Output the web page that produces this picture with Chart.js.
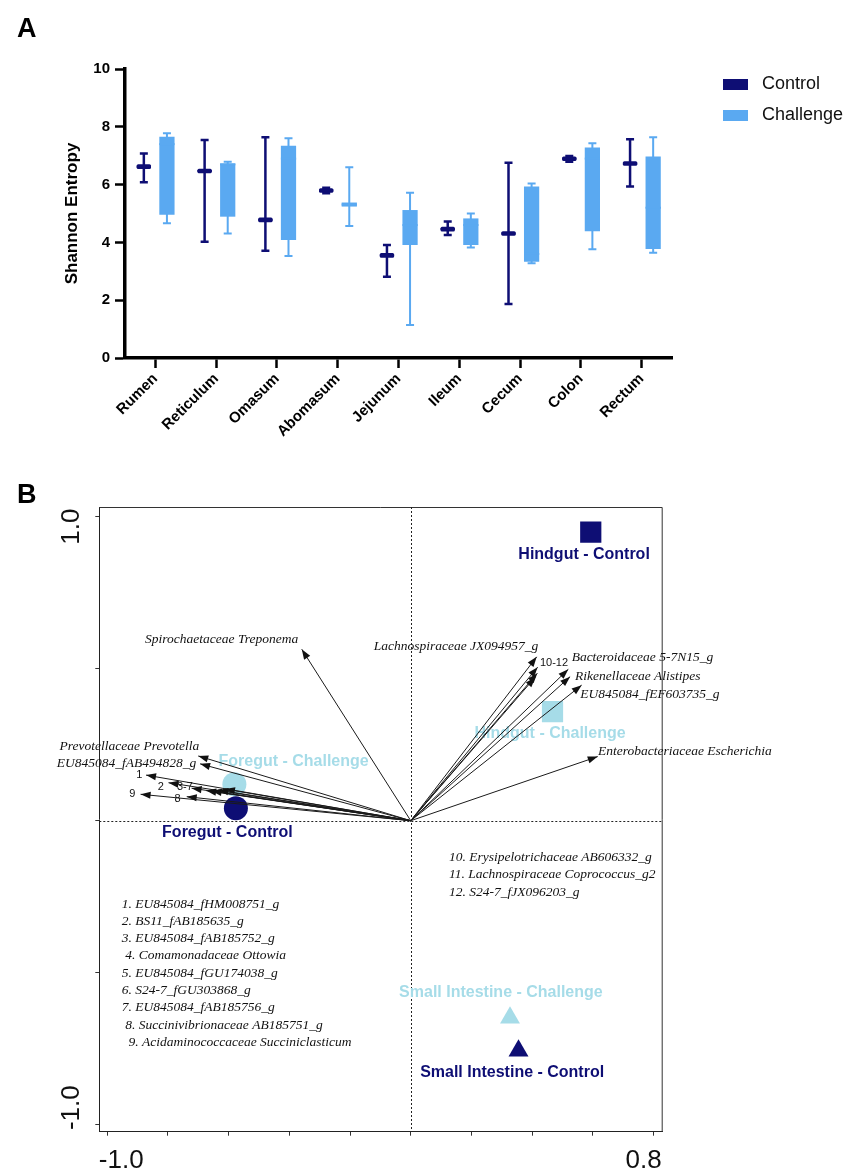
<!DOCTYPE html>
<html>
<head>
<meta charset="utf-8">
<script src="https://cdn.jsdelivr.net/npm/chart.js@4.4.1/dist/chart.umd.min.js"></script>
<style>
  html, body { margin: 0; padding: 0; background: #fff; }
  body { width: 850px; height: 1174px; position: relative; overflow: hidden; font-family: "Liberation Sans", Arial, sans-serif; }
  #wrapA { position: absolute; left: 0; top: 0; width: 850px; height: 470px; }
  #wrapB { position: absolute; left: 0; top: 470px; width: 850px; height: 704px; }
  .panel-tag { position: absolute; font-weight: bold; font-size: 27px; color: #000; }
</style>
</head>
<body>
<div id="wrapA"><canvas id="diversityChart"></canvas></div>
<div id="wrapB"><canvas id="ordinationChart"></canvas></div>
<div class="panel-tag" style="left:17px;top:13px">A</div>
<div class="panel-tag" style="left:17px;top:479px">B</div>
<script>
// ---- panel A: Shannon entropy per gut section ----
const organs = ["Rumen", "Reticulum", "Omasum", "Abomasum", "Jejunum", "Ileum", "Cecum", "Colon", "Rectum"];

const controlMin = [6.08, 4.02, 3.71, 5.70, 2.81, 4.26, 1.87, 6.79, 5.93];
const controlQ1 = [6.54, 6.39, 4.70, 5.72, 3.47, 4.38, 4.23, 6.82, 6.65];
const controlMedian = [6.62, 6.47, 4.78, 5.80, 3.55, 4.46, 4.31, 6.90, 6.73];
const controlQ3 = [6.70, 6.55, 4.86, 5.87, 3.63, 4.54, 4.39, 6.97, 6.81];
const controlMax = [7.08, 7.54, 7.64, 5.89, 3.91, 4.72, 6.76, 6.99, 7.57];

const challengeMin = [4.66, 4.31, 3.53, 4.57, 1.14, 3.82, 3.28, 3.76, 3.64];
const challengeQ1 = [4.96, 4.89, 4.08, 5.24, 3.91, 3.91, 3.33, 4.39, 3.77];
const challengeMedian = [7.40, 6.70, 6.90, 5.31, 4.60, 4.60, 3.60, 6.90, 5.20];
const challengeQ3 = [7.66, 6.73, 7.34, 5.38, 5.12, 4.83, 5.93, 7.28, 6.97];
const challengeMax = [7.78, 6.79, 7.60, 6.60, 5.72, 5.00, 6.04, 7.43, 7.64];

// ---- panel B: ordination biplot ----
const groupNames = ["Foregut - Control", "Foregut - Challenge", "Small Intestine - Control",
  "Small Intestine - Challenge", "Hindgut - Control", "Hindgut - Challenge"];
const groupX = [-0.576, -0.581, 0.355, 0.327, 0.593, 0.467];
const groupY = [0.041, 0.120, -0.757, -0.648, 0.949, 0.359];
const groupLabelX = [-0.604, -0.386, 0.334, 0.297, 0.571, 0.459];
const groupLabelY = [-0.038, 0.194, -0.828, -0.564, 0.877, 0.288];

// arrow tips (taxa loadings), arrows start at the origin
const arrowTaxa = ["Spirochaetaceae Treponema", "Prevotellaceae Prevotella", "EU845084_fAB494828_g",
  "1", "2", "3", "4", "5", "6", "7", "8", "9",
  "Lachnospiraceae JX094957_g", "10", "11", "12",
  "Bacteroidaceae 5-7N15_g", "Rikenellaceae Alistipes", "EU845084_fEF603735_g", "Enterobacteriaceae Escherichia"];
const arrowTipX = [-0.359, -0.700, -0.694, -0.872, -0.798, -0.722, -0.674, -0.656, -0.634, -0.612, -0.738, -0.890,
  0.415, 0.418, 0.417, 0.410, 0.519, 0.525, 0.563, 0.616];
const arrowTipY = [0.564, 0.213, 0.187, 0.150, 0.125, 0.107, 0.099, 0.098, 0.101, 0.104, 0.079, 0.087,
  0.539, 0.505, 0.485, 0.472, 0.498, 0.474, 0.446, 0.211];

const arrowLabels = ["Spirochaetaceae Treponema", "Prevotellaceae Prevotella", "EU845084_fAB494828_g",
  "1", "2", "3-7", "8", "9", "Lachnospiraceae JX094957_g", "10-12",
  "Bacteroidaceae 5-7N15_g", "Rikenellaceae Alistipes", "EU845084_fEF603735_g", "Enterobacteriaceae Escherichia"];
const arrowLabelX = [-0.371, -0.697, -0.707, -0.894, -0.823, -0.744, -0.768, -0.917, 0.420, 0.472, 0.530, 0.541, 0.558, 0.617];
const arrowLabelY = [0.595, 0.243, 0.187, 0.150, 0.112, 0.110, 0.070, 0.087, 0.572, 0.518, 0.536, 0.474, 0.417, 0.227];

const foregutKey = ["1. EU845084_fHM008751_g", "2. BS11_fAB185635_g", "3. EU845084_fAB185752_g",
  " 4. Comamonadaceae Ottowia", "5. EU845084_fGU174038_g", "6. S24-7_fGU303868_g",
  "7. EU845084_fAB185756_g", " 8. Succinivibrionaceae AB185751_g", "  9. Acidaminococcaceae Succiniclasticum"];
const hindgutKey = ["10. Erysipelotrichaceae AB606332_g", "11. Lachnospiraceae Coprococcus_g2", "12. S24-7_fJX096203_g"];

const xTickLabels = [-1.0, 0.8];
const yTickLabels = [1.0, -1.0];

// colours / fonts
const navy = "#0e0e74";
const blue = "#5aa9f1";
const lightBlue = "#a6dce8";
const sans = "'Liberation Sans', Arial, sans-serif";
const serif = "'Liberation Serif', 'Times New Roman', serif";

// whiskers + caps drawn under the boxes, medians over them
const whiskerPlugin = {
  id: "whiskers",
  beforeDatasetsDraw(chart) {
    const { ctx } = chart;
    const y = chart.scales.y;
    chart.data.datasets.forEach((ds, di) => {
      const meta = chart.getDatasetMeta(di);
      ctx.save();
      ctx.strokeStyle = ds.backgroundColor;
      ctx.lineWidth = ds.whiskerWidth;
      meta.data.forEach((bar, i) => {
        const top = y.getPixelForValue(ds.whiskerMax[i]);
        const bottom = y.getPixelForValue(ds.whiskerMin[i]);
        ctx.beginPath();
        ctx.moveTo(bar.x, top);
        ctx.lineTo(bar.x, bottom);
        ctx.moveTo(bar.x - 4, top);
        ctx.lineTo(bar.x + 4, top);
        ctx.moveTo(bar.x - 4, bottom);
        ctx.lineTo(bar.x + 4, bottom);
        ctx.stroke();
      });
      ctx.restore();
    });
  },
  afterDatasetsDraw(chart) {
    const { ctx } = chart;
    const y = chart.scales.y;
    chart.data.datasets.forEach((ds, di) => {
      const meta = chart.getDatasetMeta(di);
      ctx.save();
      ctx.strokeStyle = ds.backgroundColor;
      ctx.lineWidth = 2;
      meta.data.forEach((bar, i) => {
        const my = y.getPixelForValue(ds.medians[i]);
        ctx.beginPath();
        ctx.moveTo(bar.x - bar.width / 2, my);
        ctx.lineTo(bar.x + bar.width / 2, my);
        ctx.stroke();
      });
      ctx.restore();
    });
  },
};

// legend on the right of panel A
const boxLegend = {
  id: "boxLegend",
  afterDraw(chart) {
    const { ctx } = chart;
    chart.data.datasets.forEach((ds, i) => {
      const cy = 84.5 + i * 31;
      ctx.save();
      ctx.fillStyle = ds.backgroundColor;
      ctx.fillRect(723, cy - 5.5, 25, 11);
      ctx.fillStyle = "#111";
      ctx.font = "18px " + sans;
      ctx.textBaseline = "middle";
      ctx.fillText(ds.label, 762, cy);
      ctx.restore();
    });
  },
};

new Chart(document.getElementById("diversityChart"), {
  type: "bar",
  data: {
    labels: organs,
    datasets: [
      {
        label: "Control",
        data: organs.map((_, i) => [controlQ1[i], controlQ3[i]]),
        whiskerMin: controlMin,
        whiskerMax: controlMax,
        medians: controlMedian,
        whiskerWidth: 2.5,
        backgroundColor: navy,
        borderWidth: 0,
        borderRadius: 1.5,
        borderSkipped: false,
        categoryPercentage: 0.76,
        barPercentage: 0.62,
      },
      {
        label: "Challenge",
        data: organs.map((_, i) => [challengeQ1[i], challengeQ3[i]]),
        whiskerMin: challengeMin,
        whiskerMax: challengeMax,
        medians: challengeMedian,
        whiskerWidth: 2,
        backgroundColor: blue,
        borderWidth: 0,
        borderSkipped: false,
        categoryPercentage: 0.76,
        barPercentage: 0.66,
      },
    ],
  },
  options: {
    responsive: true,
    maintainAspectRatio: false,
    animation: false,
    layout: { padding: { left: 60, top: 69, right: 178, bottom: 0 } },
    plugins: { legend: { display: false }, tooltip: { enabled: false } },
    scales: {
      x: {
        offset: true,
        grid: { offset: false, drawOnChartArea: false, tickLength: 10, tickWidth: 2.5, tickColor: "#000" },
        border: { color: "#000", width: 3.5 },
        ticks: {
          color: "#000",
          font: { family: sans, size: 15, weight: "bold" },
          minRotation: 45,
          maxRotation: 45,
          padding: 2,
        },
        afterFit: (s) => { s.height = 112; },
      },
      y: {
        min: 0,
        max: 10,
        ticks: { stepSize: 2, color: "#000", padding: 5, font: { family: sans, size: 15, weight: "bold" } },
        grid: { drawOnChartArea: false, tickLength: 10, tickWidth: 2.5, tickColor: "#000" },
        border: { color: "#000", width: 3.5 },
        title: {
          display: true,
          text: "Shannon Entropy",
          color: "#000",
          font: { family: sans, size: 17, weight: "bold" },
          padding: { top: 2, bottom: 0 },
        },
        afterFit: (s) => { s.width = 65; },
      },
    },
  },
  plugins: [whiskerPlugin, boxLegend],
});

// ---- panel B helpers ----
const labelAlign = ["right", "right", "right", "center", "center", "center", "center", "center",
  "right", "center", "left", "left", "left", "left"];

const biplotDecor = {
  id: "biplotDecor",
  beforeDatasetsDraw(chart) {
    const { ctx, chartArea: a } = chart;
    const xs = chart.scales.x, ys = chart.scales.y;
    ctx.save();
    // frame top + right
    ctx.strokeStyle = "#333";
    ctx.lineWidth = 1;
    ctx.beginPath();
    ctx.moveTo(a.left, a.top + 0.5);
    ctx.lineTo(a.right - 0.5, a.top + 0.5);
    ctx.lineTo(a.right - 0.5, a.bottom);
    ctx.stroke();
    // dotted zero lines
    ctx.setLineDash([2, 2]);
    ctx.strokeStyle = "#222";
    const x0 = Math.round(xs.getPixelForValue(0)) + 0.5;
    const y0 = Math.round(ys.getPixelForValue(0)) + 0.5;
    ctx.beginPath();
    ctx.moveTo(x0, a.top);
    ctx.lineTo(x0, a.bottom);
    ctx.moveTo(a.left, y0);
    ctx.lineTo(a.right, y0);
    ctx.stroke();
    ctx.setLineDash([]);
    // group labels
    ctx.font = "bold 16px " + sans;
    ctx.textAlign = "center";
    ctx.textBaseline = "middle";
    groupNames.forEach((name, i) => {
      ctx.fillStyle = i % 2 === 0 ? navy : lightBlue;
      ctx.fillText(name, xs.getPixelForValue(groupLabelX[i]), ys.getPixelForValue(groupLabelY[i]));
    });
    ctx.restore();
  },
  afterDatasetsDraw(chart) {
    const { ctx } = chart;
    const xs = chart.scales.x, ys = chart.scales.y;
    const ox = xs.getPixelForValue(0), oy = ys.getPixelForValue(0);
    ctx.save();
    // arrow heads
    ctx.fillStyle = "#111";
    arrowTipX.forEach((tx, i) => {
      const px = xs.getPixelForValue(tx), py = ys.getPixelForValue(arrowTipY[i]);
      const ang = Math.atan2(py - oy, px - ox);
      const len = 10, half = 3.6;
      ctx.beginPath();
      ctx.moveTo(px, py);
      ctx.lineTo(px - len * Math.cos(ang) + half * Math.sin(ang), py - len * Math.sin(ang) - half * Math.cos(ang));
      ctx.lineTo(px - len * Math.cos(ang) - half * Math.sin(ang), py - len * Math.sin(ang) + half * Math.cos(ang));
      ctx.closePath();
      ctx.fill();
    });
    // arrow labels
    ctx.textBaseline = "middle";
    arrowLabels.forEach((txt, i) => {
      const numeric = /^[0-9-]+$/.test(txt);
      ctx.font = numeric ? "11px " + sans : "italic 13.5px " + serif;
      ctx.fillStyle = "#111";
      ctx.textAlign = labelAlign[i];
      ctx.fillText(txt, xs.getPixelForValue(arrowLabelX[i]), ys.getPixelForValue(arrowLabelY[i]));
    });
    // numbered keys
    ctx.font = "italic 13.5px " + serif;
    ctx.textAlign = "left";
    foregutKey.forEach((txt, i) => {
      ctx.fillText(txt, xs.getPixelForValue(-0.952), ys.getPixelForValue(-0.274) + i * 17.3);
    });
    hindgutKey.forEach((txt, i) => {
      ctx.fillText(txt, xs.getPixelForValue(0.126), ys.getPixelForValue(-0.120) + i * 17.7);
    });
    ctx.restore();
  },
  afterDraw(chart) {
    const { ctx, chartArea: a } = chart;
    const xs = chart.scales.x, ys = chart.scales.y;
    ctx.save();
    ctx.fillStyle = "#111";
    ctx.font = "26px " + sans;
    ctx.textAlign = "center";
    ctx.textBaseline = "middle";
    xTickLabels.forEach((v) => {
      const shift = v < 0 ? 14 : -10;
      ctx.fillText(v.toFixed(1), xs.getPixelForValue(v) + shift, a.bottom + 29);
    });
    yTickLabels.forEach((v) => {
      const shift = v > 0 ? 10 : -17;
      ctx.save();
      ctx.translate(a.left - 27, ys.getPixelForValue(v) + shift);
      ctx.rotate(-Math.PI / 2);
      ctx.fillText(v.toFixed(1), 0, 0);
      ctx.restore();
    });
    ctx.restore();
  },
};

const groupShapes = ["circle", "circle", "triangle", "triangle", "rect", "rect"];
const groupRadius = [12, 12, 11.5, 11.5, 15, 15];

const arrowDatasets = arrowTipX.map((tx, i) => ({
  label: arrowTaxa[i],
  data: [{ x: 0, y: 0 }, { x: tx, y: arrowTipY[i] }],
  showLine: true,
  borderColor: "#1a1a1a",
  borderWidth: 1,
  pointRadius: 0,
  order: 0,
}));

const groupDatasets = groupNames.map((name, i) => ({
  label: name,
  data: [{ x: groupX[i], y: groupY[i] }],
  pointStyle: groupShapes[i],
  pointRadius: groupRadius[i],
  backgroundColor: i % 2 === 0 ? navy : lightBlue,
  borderWidth: 0,
  order: 1,
}));

new Chart(document.getElementById("ordinationChart"), {
  type: "scatter",
  data: { datasets: [...arrowDatasets, ...groupDatasets] },
  options: {
    responsive: true,
    maintainAspectRatio: false,
    animation: false,
    layout: { padding: { left: 93.3, top: 37, right: 187.3, bottom: 36.3 } },
    plugins: { legend: { display: false }, tooltip: { enabled: false } },
    scales: {
      x: {
        min: -1.026,
        max: 0.83,
        ticks: { stepSize: 0.2, includeBounds: false, display: false },
        grid: { drawOnChartArea: false, tickLength: 4, tickColor: "#333" },
        border: { color: "#222", width: 1 },
        afterFit: (s) => { s.height = 6; },
      },
      y: {
        min: -1.023,
        max: 1.032,
        ticks: { stepSize: 0.5, includeBounds: false, display: false },
        grid: { drawOnChartArea: false, tickLength: 4, tickColor: "#333" },
        border: { color: "#222", width: 1 },
        afterFit: (s) => { s.width = 6; },
      },
    },
  },
  plugins: [biplotDecor],
});
</script>
</body>
</html>
